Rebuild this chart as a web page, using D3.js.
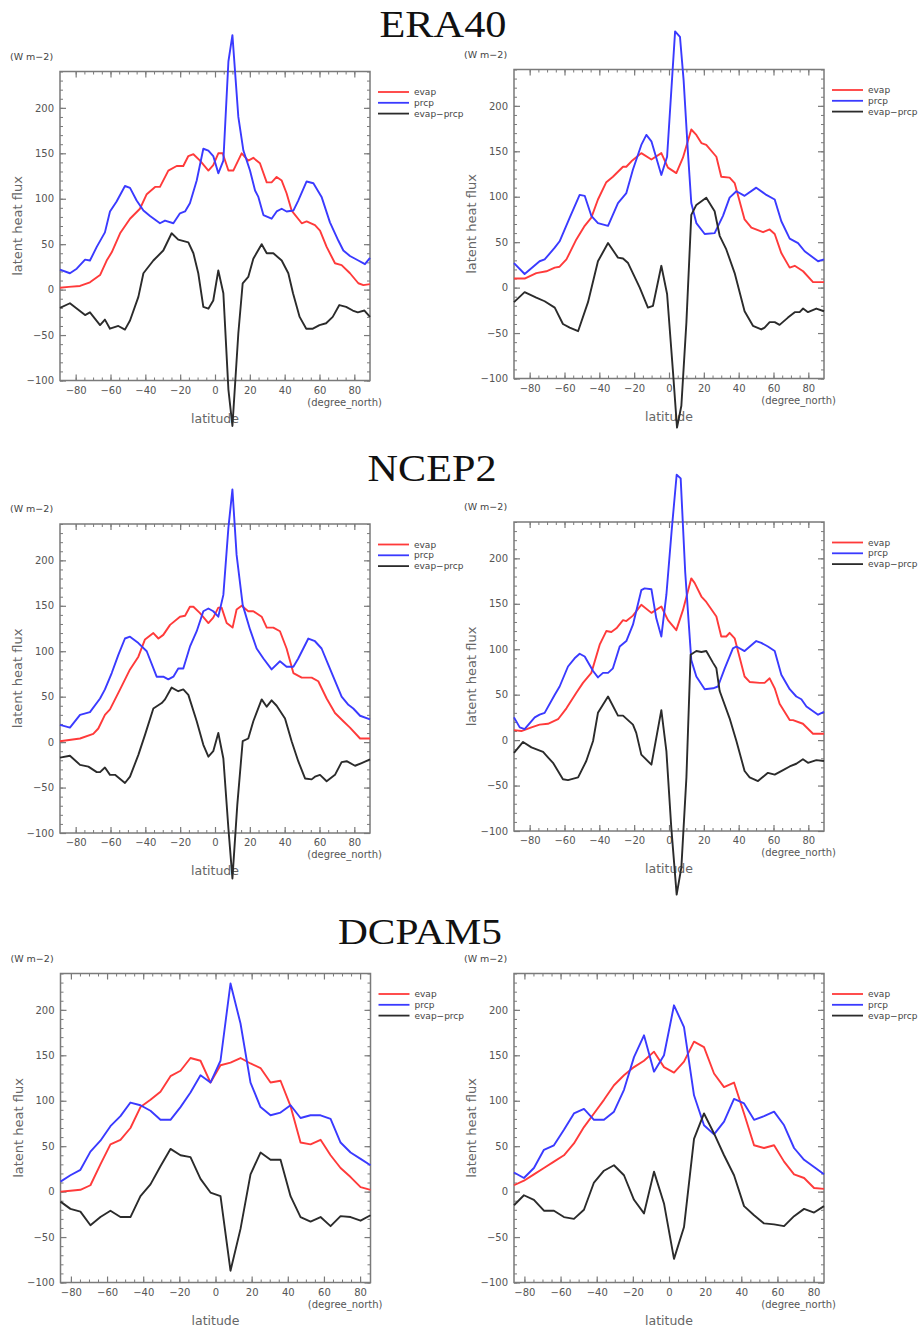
<!DOCTYPE html>
<html>
<head>
<meta charset="utf-8">
<script src="https://cdn.jsdelivr.net/npm/d3@7"></script>
<style>
  body { margin: 0; background: #fff; }
  svg text { font-family: "DejaVu Sans", sans-serif; }
</style>
</head>
<body>
<svg id="fig" width="922" height="1331"></svg>
<script>
// Zonal-mean latent heat flux, W m-2, as [latitude, value] pairs.

// ---- ERA40, left column ----
const era40LeftEvap = [[-89,2],[-84,3],[-77.5,4],[-71.8,8],[-66,16],[-62.2,32],[-59.3,41],[-54.5,62],[-48.8,78],[-43.1,89],[-39.2,105],[-34.4,113],[-31.6,113],[-26.8,131],[-22,136],[-18.2,136],[-15.3,147],[-12.4,149],[-8.6,142],[-3.8,131],[-1,137],[1.9,150],[4.4,150],[7.7,131],[10.5,131],[15.3,150],[19.1,142],[22,145],[25.8,139],[29.7,118],[32.5,118],[35.4,124],[38.3,120],[41.1,106],[44,87],[49.8,73],[52.6,75],[57.4,71],[60.3,65],[64.1,47],[68.9,29],[72.7,27],[77.5,18],[82.3,7],[85.2,5],[89,6]];
const era40LeftPrcp = [[-89,22],[-83.3,18],[-79.4,23],[-74.6,33],[-71.8,32],[-67.9,47],[-63.2,63],[-60.3,86],[-56.5,97],[-51.7,114],[-48.8,112],[-45,98],[-41.1,87],[-37.3,81],[-31.6,73],[-28.7,76],[-23.9,73],[-20.1,84],[-17.2,86],[-14.4,95],[-10.5,120],[-6.7,155],[-3.8,153],[-1,147],[1.9,128],[4.8,142],[7.7,251],[10,280],[13.4,190],[16.3,153],[20.1,131],[23,109],[24.9,102],[27.8,82],[32.5,78],[35.4,86],[38.3,89],[41.1,86],[45,87],[47.8,98],[52.6,119],[56.5,117],[61.2,102],[66,74],[70.8,54],[73.7,43],[77.5,37],[82.3,32],[86.1,28],[89,35]];
const era40LeftDiff = [[-89,-20],[-83.3,-15],[-74.6,-28],[-71.8,-25],[-66,-39],[-63.2,-33],[-60.3,-43],[-55.5,-40],[-51.7,-44],[-48.8,-34],[-44,-8],[-41.1,18],[-35.4,32],[-29.7,43],[-24.9,62],[-21.1,55],[-15.3,52],[-12.4,40],[-9.6,18],[-6.7,-19],[-3.8,-21],[-1,-12],[1.9,21],[4.8,-4],[7.7,-110],[10,-150],[13.4,-48],[15.9,7],[19.1,14],[22,34],[26.8,50],[29.7,40],[33.5,40],[38.3,32],[42.1,18],[44.8,-4],[48.6,-30],[52.4,-43],[56.2,-43],[60,-39],[63.8,-37],[67.6,-30],[71.4,-17],[75.3,-19],[79.1,-23],[82,-25],[85.8,-23],[89,-30]];

// ---- ERA40, right column ----
const era40RightEvap = [[-89,10],[-82.9,10],[-76.2,16],[-70.4,18],[-65.6,22],[-62.8,23],[-58.9,31],[-53.2,53],[-48.4,68],[-44.6,77],[-40.8,97],[-36,116],[-32.2,122],[-26.4,133],[-24.5,133],[-21.6,139],[-15.9,148],[-10.1,141],[-4.4,148],[-0.6,132],[4.2,126],[8,143],[12.8,174],[15.7,168],[18.6,159],[21.4,157],[27.2,144],[30,122],[34.8,121],[37.7,115],[43.4,75],[47.3,66],[54,61],[57.8,64],[60.7,59],[64.5,38],[69.3,22],[72.2,24],[77,18],[82.7,6],[89,6]];
const era40RightPrcp = [[-89,27],[-82.9,15],[-74.3,29],[-71.4,31],[-65.6,44],[-62.8,51],[-57,77],[-51.3,102],[-48.4,101],[-44.6,79],[-40.8,71],[-35,68],[-29.3,93],[-24.5,104],[-20.7,130],[-15.9,157],[-13,168],[-10.1,161],[-4.4,124],[-1.1,144],[3.5,282],[6.3,276],[8.4,228],[10.9,148],[12.8,93],[15.7,71],[20.5,59],[26.2,60],[31,79],[34.8,99],[38.7,106],[43.4,101],[50.1,110],[55.9,102],[60.7,97],[64.5,73],[69.3,54],[74.1,49],[77.9,40],[85.6,29],[89,31]];
const era40RightDiff = [[-89,-16],[-82.9,-5],[-76.2,-11],[-71.4,-15],[-65.6,-22],[-60.9,-40],[-57,-44],[-52.2,-48],[-46.5,-16],[-40.8,29],[-35,49],[-29.3,33],[-26.4,32],[-23.5,27],[-16.8,0],[-12.1,-22],[-9.2,-20],[-4.4,24],[-1.1,-7],[2.3,-93],[4.6,-154],[7.1,-130],[10,-38],[12.8,80],[15.7,91],[21.4,99],[26.2,84],[29.1,57],[32.9,42],[37.7,16],[43.4,-26],[48.2,-42],[53,-46],[54.9,-44],[57.8,-38],[60.7,-38],[63.5,-41],[68.3,-33],[72.2,-27],[75,-27],[77,-23],[79.8,-27],[84.6,-23],[89,-26]];

// ---- NCEP2, left column ----
const ncep2LeftEvap = [[-89,1],[-77.5,4],[-69.9,9],[-67,15],[-63.2,30],[-60.3,36],[-54.5,58],[-48.8,80],[-44,94],[-40.2,113],[-35.4,120],[-32.5,114],[-29.7,118],[-25.8,129],[-20.1,138],[-17.2,139],[-14.4,149],[-12.4,149],[-8.6,142],[-3.8,131],[-1,137],[1.9,148],[3.8,148],[6.7,131],[10.1,126],[12.4,146],[15.3,150],[19.1,144],[22,144],[26.8,138],[29.7,126],[33.5,126],[37.3,122],[41.1,103],[45,76],[49.8,71],[55.5,71],[59.3,67],[64.1,48],[68.9,32],[73.7,23],[77.5,16],[83.3,4],[89,4]];
const ncep2LeftPrcp = [[-89,19],[-83.3,16],[-77.5,30],[-71.8,33],[-66,48],[-63.2,58],[-59.3,76],[-55.5,96],[-51.7,114],[-48.8,116],[-44,109],[-39.2,100],[-33.5,72],[-29.7,72],[-26.8,69],[-23.9,72],[-21.1,81],[-18.2,81],[-14.4,105],[-10.5,122],[-6.7,144],[-3.8,147],[-1,144],[1.9,138],[4.8,162],[7.7,236],[10,278],[12.4,206],[15.9,151],[20.1,124],[23.9,103],[27.8,92],[32.5,80],[37.3,89],[41.1,83],[45,83],[47.8,92],[53.6,114],[57.4,111],[61.2,103],[65.1,85],[67.9,72],[72.7,50],[76.6,41],[79.4,37],[83.3,29],[89,25]];
const ncep2LeftDiff = [[-89,-17],[-83.3,-15],[-77.5,-25],[-72.7,-27],[-67.9,-33],[-66,-33],[-63.2,-28],[-60.3,-36],[-57.4,-36],[-51.7,-45],[-48.8,-38],[-44,-14],[-40.2,8],[-35.4,37],[-30.6,43],[-28.7,47],[-24.9,60],[-21.1,56],[-18.2,58],[-15.3,52],[-10.5,23],[-6.7,-3],[-3.8,-16],[-1,-10],[1.9,10],[4.8,-18],[7.7,-95],[10,-150],[12.8,-69],[15.9,1],[19.1,4],[22,23],[26.8,47],[29.7,39],[32.5,46],[35.4,40],[40.2,26],[44,1],[47.8,-21],[51.7,-40],[55.5,-41],[57.4,-38],[60.3,-36],[64.1,-43],[68.9,-36],[72.7,-22],[75.6,-21],[80.4,-26],[84.2,-23],[89,-19]];

// ---- NCEP2, right column ----
const ncep2RightEvap = [[-89,11],[-84.8,10],[-79,14],[-74.3,17],[-69.5,18],[-63.7,23],[-58.9,35],[-53.2,52],[-49.4,63],[-44.6,74],[-39.8,105],[-36,120],[-33.1,119],[-30.2,123],[-26.4,132],[-24.5,131],[-20.7,137],[-15.9,149],[-10.1,140],[-4.4,147],[-0.6,132],[4.2,121],[8,143],[12.8,178],[14.7,173],[18.6,158],[21.4,152],[27.2,136],[30,114],[32.9,114],[34.8,118],[37.7,112],[43.4,70],[46.3,64],[52.1,63],[54.9,63],[57.8,68],[60.7,57],[63.5,40],[69.3,22],[71.2,22],[76.9,18],[82.7,7],[89,7]];
const ncep2RightPrcp = [[-89,25],[-85.7,14],[-82.9,12],[-77.1,25],[-74.3,28],[-71.4,30],[-65.6,50],[-62.8,59],[-58,81],[-54.2,90],[-51.3,95],[-48.4,92],[-43.6,76],[-40.8,69],[-37.9,74],[-35,74],[-32.2,79],[-28.3,103],[-24.5,109],[-20.7,127],[-15.9,165],[-14,167],[-10.1,166],[-7.3,134],[-4.4,114],[-1.5,160],[1.5,230],[4.4,292],[6.7,288],[9.3,185],[12.8,88],[15.7,70],[20.5,56],[25.3,57],[28.1,59],[32,79],[36.7,101],[38.7,103],[43.4,98],[50.1,109],[53,107],[56.8,103],[60.7,98],[64.5,72],[69.3,56],[73.1,48],[76,45],[78.9,37],[85.6,28],[89,31]];
const ncep2RightDiff = [[-89,-14],[-83.8,-2],[-79,-8],[-72.3,-13],[-69.5,-19],[-66.6,-25],[-60.9,-43],[-58,-44],[-52.2,-41],[-47.5,-23],[-43.6,-1],[-40.8,30],[-35,48],[-29.3,27],[-26.4,27],[-20.7,17],[-18.8,8],[-15.9,-16],[-10.1,-27],[-4.4,33],[-1.5,-12],[1.3,-96],[4.4,-170],[7.1,-140],[10,-41],[12.4,94],[15.7,98],[18.6,97],[21.4,98],[25.3,85],[27.2,79],[29.1,54],[34.8,24],[38.7,-1],[43.4,-34],[46.3,-41],[51.1,-45],[56.8,-36],[60.7,-38],[65.5,-33],[69.3,-29],[73.1,-26],[76.9,-21],[79.8,-25],[84.6,-22],[89,-23]];

// ---- DCPAM5 (T21 Gaussian latitudes), left column ----
const dcpamLeftEvap = [[-85.76,0],[-80.27,1],[-74.74,2],[-69.2,7],[-63.67,30],[-58.13,52],[-52.59,57],[-47.06,70],[-41.52,93],[-35.98,101],[-30.45,110],[-24.91,127],[-19.37,133],[-13.84,147],[-8.3,144],[-2.77,120],[2.77,139],[8.3,142],[13.84,147],[19.37,141],[24.91,136],[30.45,120],[35.98,122],[41.52,94],[47.06,54],[52.59,52],[58.13,57],[63.67,40],[69.2,26],[74.74,16],[80.27,5],[85.76,2]];
const dcpamLeftPrcp = [[-85.76,11],[-80.27,18],[-74.74,24],[-69.2,44],[-63.67,56],[-58.13,72],[-52.59,83],[-47.06,98],[-41.52,95],[-35.98,89],[-30.45,79],[-24.91,79],[-19.37,93],[-13.84,109],[-8.3,128],[-2.77,120],[2.77,144],[8.3,229],[13.84,185],[19.37,120],[24.91,93],[30.45,84],[35.98,87],[41.52,95],[47.06,81],[52.59,84],[58.13,84],[63.67,80],[69.2,54],[74.74,43],[80.27,36],[85.76,29]];
const dcpamLeftDiff = [[-85.76,-11],[-80.27,-19],[-74.74,-22],[-69.2,-37],[-63.67,-28],[-58.13,-21],[-52.59,-28],[-47.06,-28],[-41.52,-5],[-35.98,8],[-30.45,28],[-24.91,47],[-19.37,40],[-13.84,38],[-8.3,14],[-2.77,-1],[2.77,-5],[8.3,-87],[13.84,-41],[19.37,19],[24.91,43],[30.45,35],[35.98,35],[41.52,-5],[47.06,-28],[52.59,-33],[58.13,-28],[63.67,-38],[69.2,-27],[74.74,-28],[80.27,-32],[85.76,-26]];

// ---- DCPAM5 (T21 Gaussian latitudes), right column ----
const dcpamRightEvap = [[-85.76,7],[-80.27,12],[-74.74,19],[-69.2,26],[-63.67,33],[-58.13,40],[-52.59,53],[-47.06,71],[-41.52,86],[-35.98,101],[-30.45,117],[-24.91,128],[-19.37,137],[-13.84,144],[-8.3,154],[-2.77,137],[2.77,131],[8.3,143],[13.84,165],[19.37,159],[24.91,130],[30.45,115],[35.98,120],[41.52,86],[47.06,51],[52.59,48],[58.13,51],[63.67,33],[69.2,19],[74.74,15],[80.27,4],[85.76,3]];
const dcpamRightPrcp = [[-85.76,21],[-80.27,15],[-74.74,26],[-69.2,46],[-63.67,51],[-58.13,68],[-52.59,86],[-47.06,91],[-41.52,79],[-35.98,79],[-30.45,88],[-24.91,112],[-19.37,148],[-13.84,172],[-8.3,132],[-2.77,150],[2.77,205],[8.3,181],[13.84,106],[19.37,73],[24.91,63],[30.45,77],[35.98,102],[41.52,97],[47.06,79],[52.59,83],[58.13,88],[63.67,73],[69.2,48],[74.74,35],[80.27,27],[85.76,19]];
const dcpamRightDiff = [[-85.76,-15],[-80.27,-4],[-74.74,-9],[-69.2,-21],[-63.67,-21],[-58.13,-28],[-52.59,-30],[-47.06,-20],[-41.52,10],[-35.98,23],[-30.45,29],[-24.91,18],[-19.37,-9],[-13.84,-24],[-8.3,22],[-2.77,-13],[2.77,-74],[8.3,-39],[13.84,58],[19.37,86],[24.91,64],[30.45,40],[35.98,18],[41.52,-16],[47.06,-26],[52.59,-35],[58.13,-36],[63.67,-38],[69.2,-27],[74.74,-19],[80.27,-23],[85.76,-16]];

const datasetTitles = ["ERA40", "NCEP2", "DCPAM5"];
const seriesNames = ["evap", "prcp", "evap\u2212prcp"];
const yTicks = [-100, -50, 0, 50, 100, 150, 200];
const xTicks = [-80, -60, -40, -20, 0, 20, 40, 60, 80];
const yDomain = [-100, 240];

// ---- layout ----
const seriesColors = ["#ff3a3a", "#3a3aff", "#2b2b2b"];
const frameW = 310, frameH = 309;
const panels = [
  { left: 60,  top: 71.5, latMax: 89,    series: [era40LeftEvap, era40LeftPrcp, era40LeftDiff] },
  { left: 514, top: 69.5, latMax: 89,    series: [era40RightEvap, era40RightPrcp, era40RightDiff] },
  { left: 60,  top: 524,  latMax: 89,    series: [ncep2LeftEvap, ncep2LeftPrcp, ncep2LeftDiff] },
  { left: 514, top: 522,  latMax: 89,    series: [ncep2RightEvap, ncep2RightPrcp, ncep2RightDiff] },
  { left: 60.5,top: 973.5,latMax: 85.76, series: [dcpamLeftEvap, dcpamLeftPrcp, dcpamLeftDiff] },
  { left: 514, top: 973.5,latMax: 85.76, series: [dcpamRightEvap, dcpamRightPrcp, dcpamRightDiff] }
];
const titles = [
  { cx: 443, base: 37,  width: 127, size: 38 },
  { cx: 432, base: 481, width: 129, size: 38 },
  { cx: 420, base: 944, width: 164, size: 36 }
];

const svg = d3.select("#fig");
svg.append("rect").attr("width", 922).attr("height", 1331).attr("fill", "#fff");

titles.forEach((t, i) => {
  svg.append("text")
    .attr("x", t.cx).attr("y", t.base)
    .attr("text-anchor", "middle")
    .attr("textLength", t.width).attr("lengthAdjust", "spacingAndGlyphs")
    .style("font-family", "'Liberation Serif', 'DejaVu Serif', serif")
    .style("font-size", t.size + "px")
    .attr("fill", "#111")
    .text(datasetTitles[i]);
});

function drawPanel(p) {
  const g = svg.append("g").attr("transform", `translate(${p.left},${p.top})`);
  const x = d3.scaleLinear().domain([-p.latMax, p.latMax]).range([0, frameW]);
  const y = d3.scaleLinear().domain(yDomain).range([frameH, 0]);
  const axisColor = "#7a7a7a";
  const labelColor = "#555";

  const minorX = d3.range(-80, 81, 5);
  const minorY = d3.range(-100, 241, 10);

  // inward major and minor ticks on all four sides
  const sides = [
    { make: () => d3.axisBottom(x), t: `translate(0,${frameH})`, major: xTicks, minor: minorX, labels: true },
    { make: () => d3.axisTop(x),    t: "translate(0,0)",          major: xTicks, minor: minorX, labels: false },
    { make: () => d3.axisLeft(y),   t: "translate(0,0)",          major: yTicks, minor: minorY, labels: true },
    { make: () => d3.axisRight(y),  t: `translate(${frameW},0)`,  major: yTicks, minor: minorY, labels: false }
  ];
  sides.forEach(s => {
    g.append("g").attr("transform", s.t)
      .call(s.make().tickValues(s.minor).tickSizeInner(-3).tickSizeOuter(0).tickFormat(""))
      .call(a => a.select(".domain").remove())
      .call(a => a.selectAll("line").attr("stroke", axisColor).attr("stroke-width", 1));
    const ag = g.append("g").attr("transform", s.t)
      .call(s.make().tickValues(s.major).tickSizeInner(-6).tickSizeOuter(0).tickPadding(s.labels ? 6 : 0)
        .tickFormat(s.labels ? d3.format("") : ""))
      .call(a => a.select(".domain").remove())
      .call(a => a.selectAll("line").attr("stroke", axisColor).attr("stroke-width", 1.2));
    ag.selectAll("text").attr("fill", labelColor).style("font-size", "10px");
  });

  g.append("rect")
    .attr("width", frameW).attr("height", frameH)
    .attr("fill", "none").attr("stroke", axisColor).attr("stroke-width", 1.5);

  // units and axis titles
  g.append("text").attr("x", -50).attr("y", -12)
    .attr("fill", "#444").style("font-size", "9.5px").text("(W m\u22122)");
  g.append("text")
    .attr("transform", `translate(-38,${frameH / 2}) rotate(-90)`)
    .attr("text-anchor", "middle").attr("fill", "#666")
    .style("font-size", "13px").text("latent heat flux");
  g.append("text").attr("x", frameW + 12).attr("y", frameH + 25)
    .attr("text-anchor", "end").attr("fill", "#555")
    .style("font-size", "10px").text("(degree_north)");
  g.append("text").attr("x", frameW / 2).attr("y", frameH + 42)
    .attr("text-anchor", "middle").attr("fill", "#666")
    .style("font-size", "12.5px").text("latitude");

  // curves
  const line = d3.line().x(d => x(d[0])).y(d => y(d[1]));
  p.series.forEach((s, i) => {
    g.append("path").datum(s)
      .attr("d", line)
      .attr("fill", "none")
      .attr("stroke", seriesColors[i])
      .attr("stroke-width", 1.9)
      .attr("stroke-linejoin", "round");
  });

  // legend
  seriesNames.forEach((name, i) => {
    const ly = 20.5 + i * 10.8;
    g.append("line")
      .attr("x1", frameW + 8).attr("x2", frameW + 39)
      .attr("y1", ly).attr("y2", ly)
      .attr("stroke", seriesColors[i]).attr("stroke-width", 1.8);
    g.append("text")
      .attr("x", frameW + 44).attr("y", ly + 3)
      .attr("fill", "#444").style("font-size", "9px")
      .text(name);
  });
}

panels.forEach(drawPanel);
</script>
</body>
</html>
